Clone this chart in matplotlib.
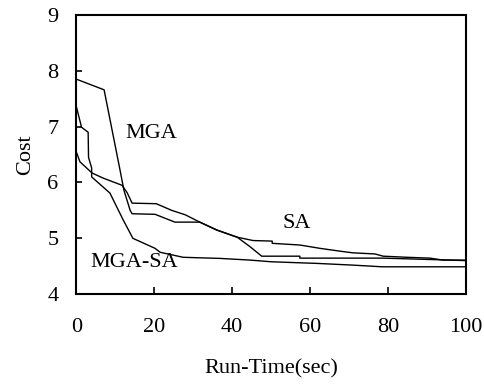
import numpy as np
import matplotlib
matplotlib.use("Agg")
import matplotlib.pyplot as plt

# values
sa_x = [0, 0.9, 4.0, 6.8, 11.7, 13.0, 14.3, 20.5, 24.5, 28.0, 31.7, 36.0, 41.3,
        45.4, 50.3, 50.3, 57.4, 62.6, 67.7, 71.0, 76.7, 78.8, 85.0, 90.9, 94.2, 100]
sa_y = [6.54, 6.37, 6.17, 6.08, 5.95, 5.82, 5.63, 5.62, 5.50, 5.42, 5.29, 5.15, 5.02,
        4.96, 4.95, 4.91, 4.88, 4.82, 4.77, 4.74, 4.72, 4.68, 4.66, 4.645, 4.61, 4.61]

mga_x = [0, 7.1, 11.2, 12.2, 13.8, 14.3, 20.2, 25.3, 31.7, 36.0, 41.3, 44.6, 47.6,
         57.4, 57.4, 78.8, 96.0, 100]
mga_y = [7.85, 7.66, 6.22, 5.86, 5.50, 5.44, 5.43, 5.29, 5.29, 5.15, 5.02, 4.85, 4.68,
         4.68, 4.645, 4.645, 4.61, 4.60]

mgasa_x = [0, 1.3, 3.0, 3.1, 3.9, 3.9, 8.6, 12.0, 14.5, 20.2, 21.5, 27.4, 36.9,
           44.6, 50.0, 62.0, 71.0, 78.5, 100]
mgasa_y = [7.35, 6.99, 6.90, 6.45, 6.26, 6.10, 5.81, 5.33, 5.00, 4.82, 4.75, 4.66, 4.64,
           4.61, 4.58, 4.55, 4.52, 4.49, 4.49]

x_ticks = [0, 20, 40, 60, 80, 100]
y_ticks = [4, 5, 6, 7, 8, 9]

plt.rcParams["font.family"] = ["Liberation Serif", "DejaVu Serif"]

fig = plt.figure(figsize=(4.84, 3.85), dpi=100)
ax = fig.add_axes([0.158, 0.236, 0.804, 0.725])

ax.plot(sa_x, sa_y, color="black", linewidth=1.0)
ax.plot(mga_x, mga_y, color="black", linewidth=1.0)
ax.plot(mgasa_x, mgasa_y, color="black", linewidth=1.0)

ax.text(12.5, 6.88, "MGA", fontsize=16, va="center", ha="left")
ax.text(53, 5.27, "SA", fontsize=16, va="center", ha="left")
ax.text(3.5, 4.57, "MGA-SA", fontsize=16, va="center", ha="left")

ax.set_xlim(0, 100)
ax.set_ylim(4, 9)
ax.set_xticks(x_ticks)
ax.set_yticks(y_ticks)
ax.tick_params(axis="x", direction="in", length=5, width=1.2, pad=17, labelsize=16)
ax.tick_params(axis="y", direction="in", length=4.5, width=1.2, pad=13, labelsize=16)
for s in ax.spines.values():
    s.set_linewidth(1.5)

ax.set_xlabel("Run-Time(sec)", fontsize=16, labelpad=16)
ax.set_ylabel("Cost", fontsize=16, labelpad=9)

fig.savefig("out.png", dpi=100)
